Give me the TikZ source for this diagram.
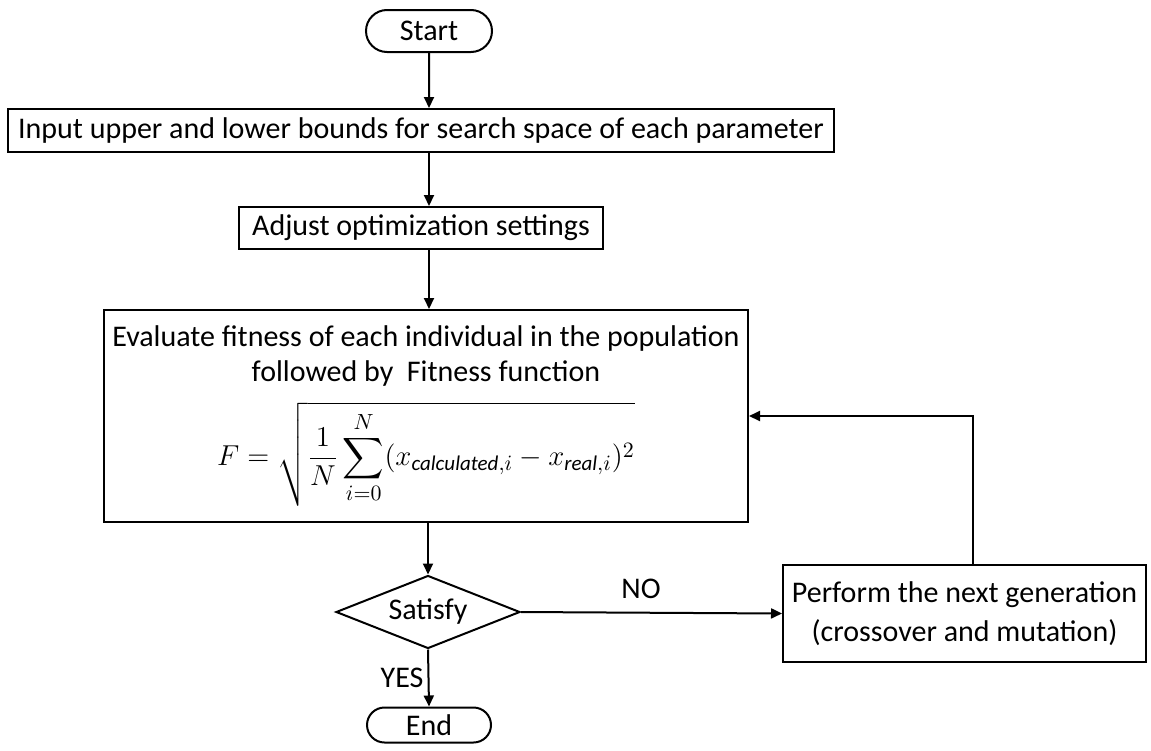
\documentclass[tikz,border=0pt]{standalone}
\usepackage{fontspec}
\setmainfont{Carlito}
\usepackage{amsmath}
\usetikzlibrary{arrows.meta}
\usetikzlibrary{shapes.geometric, shapes.misc}
\tikzset{
	flowbox/.style={draw, rectangle, line width=1pt, inner sep=0pt, align=center},
	terminal/.style={draw, rounded rectangle, line width=1pt, inner sep=0pt},
	decision/.style={draw, diamond, aspect=2.5, line width=1pt, inner sep=0pt},
	flowarrow/.style={line width=1pt, -{Triangle[length=5.5pt, width=5pt]}}
}

\begin{document}
\begin{tikzpicture}[x=0.5pt, y=-0.5pt, font=\fontsize{15}{17.5}\selectfont]
	\useasboundingbox (0, 0) rectangle (1151, 750);
	
	\node[terminal, minimum width=63pt, minimum height=21pt] (start) at (429, 31) {Start};
	\node[flowbox, minimum width=413pt, minimum height=21.5pt] (input) at (421, 130.5)
		{Input upper and lower bounds for search space of each parameter};
	\node[flowbox, minimum width=182pt, minimum height=21pt] (adjust) at (421, 228)
		{Adjust optimization settings};
	\node[flowbox, minimum width=322pt, minimum height=106pt] (eval) at (426, 416)
		{Evaluate fitness of each individual in the population\\
		followed by~ Fitness function\\[7pt]
		$\displaystyle F=\sqrt{\frac{1}{N}\sum_{i=0}^{N}(x_{\textit{calculated},i}-x_{\textit{real},i})^2}$};
	\node[decision, minimum width=92pt, minimum height=36.5pt] (satisfy) at (428, 612) {Satisfy};
	\node[terminal, minimum width=62pt, minimum height=17.5pt] (end) at (429, 725) {End};
	\node[flowbox, minimum width=181.5pt, minimum height=48.5pt, font=\fontsize{15}{19.5}\selectfont]
		(perform) at (964.5, 613.5) {Perform the next generation\\(crossover and mutation)};
	
	\draw[flowarrow] (start) -- (start |- input.north);
	\draw[flowarrow] (start |- input.south) -- (start |- adjust.north);
	\draw[flowarrow] (start |- adjust.south) -- (start |- eval.north);
	\draw[flowarrow] (satisfy |- eval.south) -- (satisfy.north);
	\draw[flowarrow] (satisfy.south) -- (end.north) node[midway, left, inner sep=2pt]{YES};
	\draw[flowarrow] (satisfy.east) -- (perform.west) node[pos=0.46, above=3pt]{NO};
	\draw[flowarrow] ([xshift=4.25pt]perform.north) |- (eval.east);
\end{tikzpicture}
\end{document}
